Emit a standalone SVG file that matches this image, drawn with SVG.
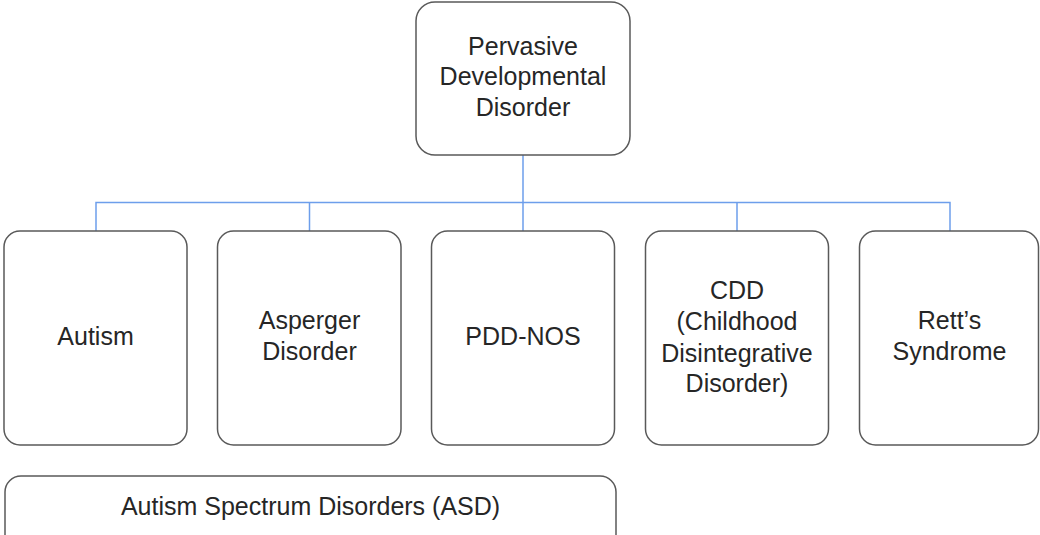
<svg xmlns="http://www.w3.org/2000/svg" width="1040" height="535" viewBox="0 0 1040 535">
<style>
.box{fill:#ffffff;stroke:#595959;stroke-width:1.5}
.t{font-family:"Liberation Sans",Arial,sans-serif;font-size:25px;fill:#262626;text-anchor:middle}
.c{fill:none;stroke:#6d9eeb;stroke-width:1.5}
</style>
<rect width="1040" height="535" fill="#ffffff"/>
<g id="connectors">
<path class="c" d="M523,155 V231 M96,231 V202.5 H950 V231 M309.5,202.5 V231 M737,202.5 V231"/>
</g>
<g id="pdd">
<rect class="box" x="416" y="2" width="214" height="153" rx="19"/>
<text class="t" x="523" y="54.5">Pervasive</text>
<text class="t" x="523" y="85">Developmental</text>
<text class="t" x="523" y="115.5">Disorder</text>
</g>
<g id="autism">
<rect class="box" x="4" y="231" width="183" height="214" rx="16"/>
<text class="t" x="95.5" y="345">Autism</text>
</g>
<g id="asperger">
<rect class="box" x="217.5" y="231" width="183.5" height="214" rx="16"/>
<text class="t" x="309.5" y="328.5">Asperger</text>
<text class="t" x="309.5" y="359.5">Disorder</text>
</g>
<g id="pddnos">
<rect class="box" x="431.5" y="231" width="183" height="214" rx="16"/>
<text class="t" x="523" y="345">PDD-NOS</text>
</g>
<g id="cdd">
<rect class="box" x="645.5" y="231" width="183" height="214" rx="16"/>
<text class="t" x="737" y="298.5">CDD</text>
<text class="t" x="737" y="330">(Childhood</text>
<text class="t" x="737" y="361.5">Disintegrative</text>
<text class="t" x="737" y="392">Disorder)</text>
</g>
<g id="rett">
<rect class="box" x="859.5" y="231" width="179" height="214" rx="16"/>
<text class="t" x="949.5" y="328.5">Rett’s</text>
<text class="t" x="949.5" y="359.5">Syndrome</text>
</g>
<g id="asd">
<rect class="box" x="5" y="476" width="611" height="75" rx="16"/>
<text class="t" x="310.5" y="514.5">Autism Spectrum Disorders (ASD)</text>
</g>
</svg>
